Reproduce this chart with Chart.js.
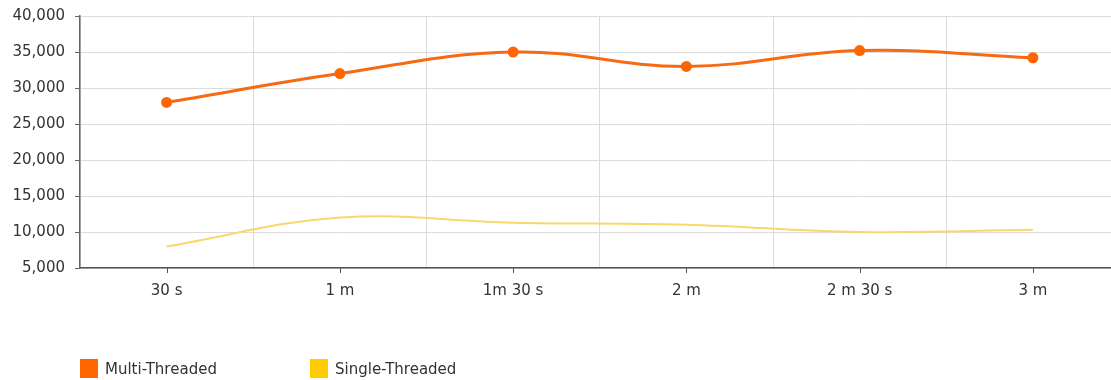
<!DOCTYPE html>
<html>
<head>
<meta charset="utf-8">
<script src="https://cdn.jsdelivr.net/npm/chart.js@4/dist/chart.umd.min.js"></script>
<style>
    html, body { margin: 0; padding: 0; background: #fff; overflow: hidden; }
    #wrap { position: relative; width: 1125px; height: 383px; margin-top: -3px; }
    .legend-item { position: absolute; top: 362px; font: 15px "DejaVu Sans", Verdana, sans-serif; color: #333; white-space: nowrap; }
    .legend-item span.box { position: absolute; left: 0; top: 0; width: 18px; height: 19px; }
    .legend-item span.label { position: absolute; left: 25px; top: 1px; }
</style>
</head>
<body>
<div id="wrap">
    <canvas id="perfChart"></canvas>
    <div class="legend-item" style="left:80px"><span class="box" style="background:#ff6600"></span><span class="label">Multi-Threaded</span></div>
    <div class="legend-item" style="left:310px"><span class="box" style="background:#ffcc00"></span><span class="label">Single-Threaded</span></div>
</div>
<script>
const categories = ['30 s', '1 m', '1m 30 s', '2 m', '2 m 30 s', '3 m'];
const multiThreaded = [28000, 32000, 35000, 33000, 35200, 34200];
const singleThreaded = [8000, 12000, 11300, 11000, 10000, 10300];
const yTicks = [5000, 10000, 15000, 20000, 25000, 30000, 35000, 40000];

document.addEventListener('DOMContentLoaded', function() {
    const font = { family: '"DejaVu Sans", Verdana, sans-serif', size: 15 };

    // small tick marks under each category label (grid lines sit between categories)
    const categoryTicks = {
        id: 'categoryTicks',
        afterDraw(chart) {
            const x = chart.scales.x;
            const ctx = chart.ctx;
            ctx.save();
            ctx.strokeStyle = '#555';
            ctx.lineWidth = 1;
            x.ticks.forEach((t, i) => {
                const px = Math.round(x.getPixelForTick(i)) + 0.5;
                ctx.beginPath();
                ctx.moveTo(px, x.top);
                ctx.lineTo(px, x.top + 5);
                ctx.stroke();
            });
            ctx.restore();
        }
    };

    new Chart(document.getElementById('perfChart'), {
        type: 'line',
        data: {
            labels: categories,
            datasets: [{
                label: 'Multi-Threaded',
                data: multiThreaded,
                borderColor: '#f66a14',
                backgroundColor: '#ff6600',
                borderWidth: 3,
                pointRadius: 5.5,
                pointBackgroundColor: '#ff6600',
                pointBorderColor: '#ff6600',
                pointBorderWidth: 0,
                tension: 0.4
            }, {
                label: 'Single-Threaded',
                data: singleThreaded,
                borderColor: '#f7d86a',
                backgroundColor: '#ffcc00',
                borderWidth: 2,
                pointRadius: 0,
                tension: 0.4
            }]
        },
        options: {
            responsive: true,
            maintainAspectRatio: false,
            animation: false,
            layout: {
                padding: { top: 12, right: 5, bottom: 73, left: 0 }
            },
            plugins: {
                legend: { display: false },
                tooltip: { enabled: false }
            },
            scales: {
                x: {
                    offset: true,
                    grid: {
                        offset: true,
                        color: '#dcdcdc',
                        drawTicks: false
                    },
                    border: { color: '#555', width: 1.5 },
                    ticks: {
                        color: '#333',
                        font: font,
                        padding: 14,
                        maxRotation: 0
                    },
                    afterFit: function(scale) { scale.height = 39; }
                },
                y: {
                    min: 5000,
                    max: 40000,
                    afterBuildTicks: function(scale) {
                        scale.ticks = yTicks.map(v => ({ value: v }));
                    },
                    grid: {
                        color: '#dcdcdc',
                        tickLength: 5,
                        tickColor: '#666'
                    },
                    border: { color: '#666', width: 1.5 },
                    ticks: {
                        color: '#333',
                        font: font,
                        padding: 10,
                        callback: function(value) {
                            return value.toLocaleString('en-US');
                        }
                    },
                    afterFit: function(scale) { scale.width = 80; }
                }
            }
        },
        plugins: [categoryTicks]
    });
});
</script>
</body>
</html>
